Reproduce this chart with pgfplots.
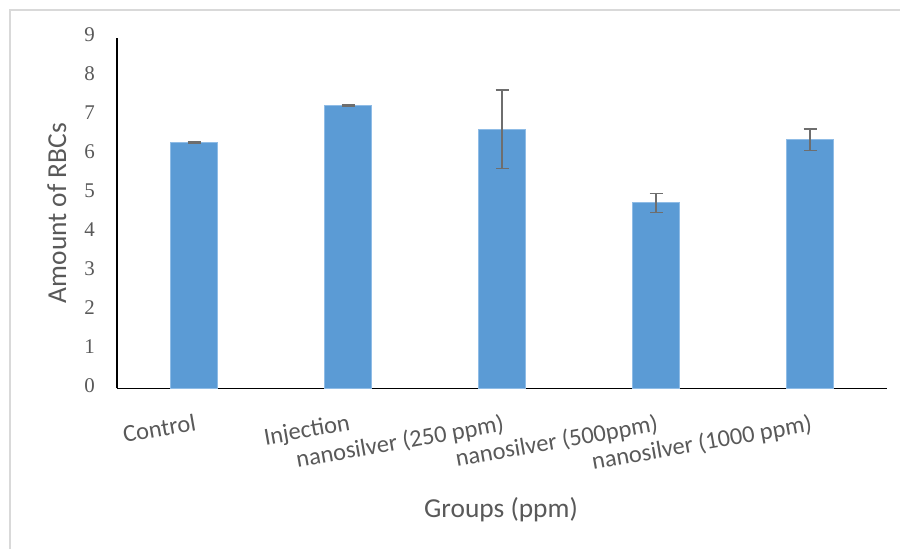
\documentclass[border=0pt]{standalone}
\usepackage{pgfplots}
\pgfplotsset{compat=1.18}
\usepackage{pgfplotstable}
\usepackage{fontspec}
\setmainfont{Liberation Serif}
\newfontfamily\calibri{Carlito}
\definecolor{barblue}{HTML}{5B9BD5}
\definecolor{baredge}{HTML}{8FBCE6}
\definecolor{txtgray}{HTML}{595959}
\definecolor{errgray}{HTML}{6E6E6E}
\definecolor{framegray}{HTML}{D9D9D9}
\pgfplotstableread{
x y err
0 6.32 0.02
1 7.27 0.02
2 6.65 1.01
3 4.76 0.24
4 6.38 0.28
}\rbcdata
\begin{document}
\begin{tikzpicture}[x=1bp,y=1bp]
\path[use as bounding box] (0,0) rectangle (900,549);
\draw[framegray, line width=1.5bp] (10,0) -- (10,539) -- (900,539);
\begin{axis}[
  at={(117bp,160.7bp)}, anchor=south west,
  scale only axis, width=770bp, height=350.6bp,
  xmin=-0.5, xmax=4.5, ymin=0, ymax=9,
  axis lines*=left,
  axis line style={black, line width=1.2bp},
  ytick={0,1,2,3,4,5,6,7,8,9},
  xtick={0,1,2,3,4},
  major tick length=0pt,
  xticklabels={Control, Injection, nanosilver (250 ppm), nanosilver (500ppm), nanosilver (1000 ppm)},
  /pgf/number format/assume math mode=true,
  yticklabel style={font=\fontsize{21}{25}\selectfont, text=txtgray, anchor=east, inner sep=0pt, xshift=-22bp, yshift=3bp},
  xticklabel style={font=\calibri\fontsize{24.5}{28}\selectfont, text=txtgray, yshift=-25bp, rotate=10, anchor=north east, inner sep=0pt},
  xlabel={Groups (ppm)},
  ylabel={Amount of RBCs},
  xlabel style={font=\calibri\fontsize{27.5}{31}\selectfont, text=txtgray, at={(axis description cs:0.4987,-0.345)}, anchor=center},
  ylabel style={font=\calibri\fontsize{27.5}{31}\selectfont, text=txtgray, at={(axis description cs:-0.078,0.5)}, anchor=center},
  clip=false,
]
\addplot[ybar, bar width=0.31, fill=barblue, draw=baredge, line width=0.8bp,
  error bars/.cd, y dir=both, y explicit,
  error bar style={errgray, line width=1.3bp},
  error mark options={rotate=90, mark size=6.5bp, line width=1.3bp, errgray}]
  table[x=x, y=y, y error=err] {\rbcdata};
\end{axis}
\end{tikzpicture}
\end{document}
